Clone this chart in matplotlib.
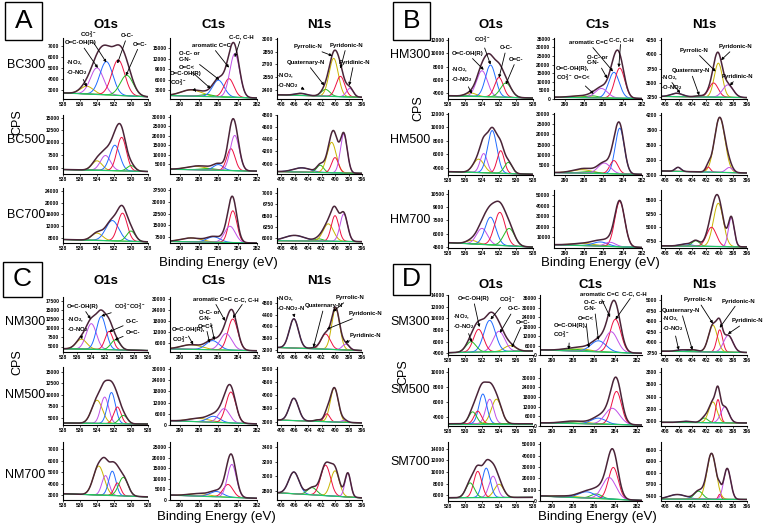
import numpy as np
import matplotlib
matplotlib.use("Agg")
import matplotlib.pyplot as plt
from matplotlib.patches import Rectangle

#--- Data: peak components ---
# each component = (binding energy, height above background, fwhm)
# O1s slots: -NO2 / O=C-OH(R) / CO3 / O-C- / O=C-
# C1s slots: O=C-OH / O=C< / O-C- or C-N- / aromatic / C-C
# N1s slots: -NO2 / Quaternary / Pyrrolic / Pyridonic / Pyridinic

A_samples = ["BC300", "BC500", "BC700"]
A_O1s = [
    [(535.2, 700, 1.8), (534.0, 2400, 1.8), (532.9, 3000, 1.8), (531.5, 3200, 1.8), (530.5, 1850, 1.8)],
    [(534.0, 1900, 1.4), (533.0, 3000, 1.4), (531.9, 5100, 1.4), (531.1, 6700, 1.3), (530.0, 1100, 1.1)],
    [(534.0, 2500, 1.5), (533.0, 0, 1.0), (532.2, 6900, 1.8), (531.0, 9500, 1.3), (530.0, 3500, 1.2)],
]
A_C1s = [
    [(288.8, 1800, 2.5), (287.2, 600, 1.5), (286.0, 4800, 1.4), (284.9, 5300, 1.2), (284.3, 12500, 1.2)],
    [(288.3, 1800, 2.5), (287.0, 800, 2.0), (286.0, 3000, 1.2), (284.7, 11500, 1.0), (284.3, 18500, 1.1)],
    [(288.8, 2500, 2.5), (287.5, 0, 2.0), (286.5, 3500, 1.6), (284.5, 20500, 1.0), (284.8, 10500, 1.3)],
]
A_N1s = [
    [(405.1, 25, 2.0), (401.4, 80, 1.5), (400.2, 450, 1.6), (399.2, 240, 1.5), (397.8, 100, 1.2)],
    [(404.9, 70, 3.0), (402.2, 120, 1.2), (400.5, 500, 1.6), (400.0, 250, 1.2), (398.7, 640, 1.2)],
    [(406.0, 120, 3.5), (402.4, 50, 1.5), (401.0, 380, 1.8), (400.0, 560, 1.3), (398.7, 600, 1.3)],
]
A_base = [[(2750, 2400), (1500, 800), (2340, 2310)],
          [(4600, 4200), (2500, 1500), (3870, 3840)],
          [(7500, 6700), (4500, 3500), (5950, 5930)]]
A_ylim = [[(2200, 7700), (500, 18000), (2290, 3010)],
          [(3700, 15500), (0, 31000), (3830, 4800)],
          [(6300, 25000), (3500, 39000), (5900, 7100)]]
A_yticks = [[[3000, 4000, 5000, 6000, 7000], [3000, 6000, 9000, 12000, 15000], [2400, 2550, 2700, 2850, 3000]],
            [[5000, 7500, 10000, 12500, 15000], [5000, 10000, 15000, 20000, 25000, 30000], [4000, 4200, 4400, 4600, 4800]],
            [[8000, 12000, 16000, 20000, 24000], [7500, 15000, 22500, 30000, 37500], [6000, 6250, 6500, 6750, 7000]]]

B_samples = ["HM300", "HM500", "HM700"]
B_O1s = [
    [(535.3, 500, 1.5), (534.0, 3900, 1.5), (533.0, 4800, 1.4), (532.0, 2950, 1.2), (531.2, 2150, 1.5)],
    [(534.4, 2000, 1.5), (533.8, 2850, 1.0), (532.8, 6300, 1.3), (531.8, 3350, 1.0), (530.9, 1650, 1.1)],
    [(535.2, 400, 1.5), (534.0, 1800, 1.5), (533.0, 3100, 1.5), (531.9, 3700, 1.5), (530.8, 1950, 1.5)],
]
B_C1s = [
    [(288.5, 900, 2.5), (287.2, 1200, 1.5), (284.9, 15000, 1.3), (284.3, 17500, 1.2), (286.2, 5500, 1.5)],
    [(288.2, 1700, 2.5), (287.5, 800, 2.0), (284.3, 22500, 1.1), (284.9, 6500, 1.0), (285.9, 5200, 1.5)],
    [(288.0, 2000, 3.0), (287.0, 600, 2.0), (286.3, 4000, 1.8), (284.3, 43000, 1.2), (285.3, 4000, 1.3)],
]
B_N1s = [
    [(406.3, 60, 2.0), (403.0, 20, 1.5), (400.2, 600, 1.4), (400.9, 250, 1.6), (398.8, 220, 1.8)],
    [(406.1, 80, 1.0), (403.0, 0, 1.0), (400.0, 1090, 1.8), (401.7, 100, 0.8), (398.6, 100, 1.2)],
    [(405.0, 40, 2.0), (403.5, 100, 1.3), (400.2, 790, 1.7), (401.2, 350, 1.7), (398.3, 530, 1.0)],
]
B_base = [[(3600, 3250), (1000, 300), (3260, 3240)],
          [(3400, 3000), (1200, 300), (3080, 3040)],
          [(5000, 4500), (3100, 500), (4660, 4640)]]
B_ylim = [[(3100, 12300), (0, 35500), (3215, 4290)],
          [(2900, 12100), (0, 30500), (3000, 4230)],
          [(4400, 10900), (0, 55000), (4620, 5680)]]
B_yticks = [[[4000, 6000, 8000, 10000, 12000], [0, 5000, 10000, 15000, 20000, 25000, 30000, 35000], [3250, 3500, 3750, 4000, 4250]],
            [[4000, 6000, 8000, 10000, 12000], [5000, 10000, 15000, 20000, 25000, 30000], [3000, 3300, 3600, 3900, 4200]],
            [[4500, 6000, 7500, 9000, 10500], [10000, 20000, 30000, 40000, 50000], [4750, 5000, 5250, 5500]]]

C_samples = ["NM300", "NM500", "NM700"]
C_O1s = [
    [(535.4, 2700, 1.8), (534.0, 7000, 1.7), (532.6, 9000, 1.6), (531.5, 5000, 1.3), (530.6, 2700, 1.5)],
    [(534.0, 5000, 1.5), (533.1, 5700, 1.1), (532.3, 6700, 1.1), (531.6, 3600, 1.0), (530.9, 1800, 1.1)],
    [(533.8, 2500, 1.5), (533.0, 1700, 1.0), (532.2, 2100, 1.0), (531.6, 1100, 0.9), (530.9, 1600, 1.3)],
]
C_C1s = [
    [(288.8, 2500, 2.5), (287.5, 0, 2.0), (286.6, 5000, 1.6), (284.5, 17000, 1.2), (285.2, 9000, 1.4)],
    [(288.0, 1800, 2.5), (287.0, 0, 2.0), (286.5, 3200, 1.5), (284.7, 16500, 1.2), (285.4, 7500, 1.3)],
    [(288.0, 1200, 2.5), (287.0, 0, 2.0), (286.2, 2500, 1.6), (285.0, 6000, 1.2), (284.6, 15500, 1.1)],
]
C_N1s = [
    [(406.1, 1000, 1.6), (403.1, 30, 1.5), (399.9, 1400, 1.4), (401.4, 520, 1.6), (398.4, 200, 1.2)],
    [(406.1, 850, 1.6), (402.5, 60, 1.2), (400.1, 1300, 1.4), (401.2, 300, 1.0), (398.6, 80, 1.0)],
    [(406.1, 300, 1.8), (403.4, 100, 1.6), (400.0, 350, 1.5), (401.4, 420, 1.7), (398.1, 330, 1.0)],
]
C_base = [[(4400, 3900), (2700, 1700), (3275, 3170)],
          [(3930, 3700), (2300, 600), (3060, 2950)],
          [(3140, 2870), (2300, 800), (2770, 2700)]]
C_ylim = [[(3500, 18500), (1000, 31000), (3120, 5000)],
          [(3500, 16000), (0, 31000), (2870, 5080)],
          [(2600, 7600), (0, 27300), (2670, 3470)]]
C_yticks = [[[5000, 7500, 10000, 12500, 15000, 17500], [6000, 12000, 18000, 24000, 30000], [3200, 3600, 4000, 4400, 4800]],
            [[5000, 7500, 10000, 12500, 15000], [0, 6000, 12000, 18000, 24000, 30000], [3000, 3500, 4000, 4500, 5000]],
            [[3000, 4000, 5000, 6000, 7000], [0, 5000, 10000, 15000, 20000, 25000], [2800, 3000, 3200, 3400]]]

D_samples = ["SM300", "SM500", "SM700"]
D_O1s = [
    [(535.3, 1000, 1.6), (534.0, 3500, 1.6), (532.9, 5400, 1.6), (531.6, 3900, 1.4), (530.7, 1800, 1.4)],
    [(533.7, 3300, 1.4), (532.9, 3300, 1.1), (532.1, 4000, 1.1), (531.5, 1700, 1.0), (530.9, 1600, 1.1)],
    [(534.0, 2300, 1.3), (533.3, 3700, 1.1), (532.5, 5100, 1.1), (531.5, 4550, 1.1), (530.6, 2550, 1.2)],
]
D_C1s = [
    [(287.2, 1500, 2.0), (288.1, 1200, 2.5), (285.6, 7000, 1.7), (284.0, 21000, 1.2), (284.4, 13000, 1.4)],
    [(287.6, 1200, 2.5), (288.5, 500, 2.0), (285.6, 3700, 1.6), (283.9, 20500, 1.1), (284.3, 10000, 1.6)],
    [(288.5, 1000, 3.0), (285.8, 4000, 1.2), (286.7, 5500, 1.8), (284.2, 28000, 1.1), (284.6, 19000, 1.5)],
]
D_N1s = [
    [(405.5, 40, 2.0), (403.8, 40, 1.5), (401.0, 640, 1.5), (400.0, 530, 1.0), (398.75, 400, 1.6)],
    [(405.0, 20, 2.0), (402.25, 75, 1.2), (401.0, 340, 1.4), (400.25, 380, 0.8), (399.25, 260, 1.4)],
    [(406.2, 120, 3.0), (403.1, 210, 1.5), (401.2, 1190, 1.6), (400.0, 130, 0.5), (398.9, 800, 1.2)],
]
D_base = [[(4100, 4400), (3230, 1080), (3790, 3760)],
          [(3100, 3100), (2000, 600), (2980, 2970)],
          [(5540, 5600), (4350, 500), (5320, 5310)]]
D_ylim = [[(3700, 14000), (0, 38000), (3700, 5130)],
          [(2800, 10600), (0, 36000), (2920, 3870)],
          [(4970, 15200), (0, 52000), (5270, 6800)]]
D_yticks = [[[4000, 6000, 8000, 10000, 12000, 14000], [0, 6000, 12000, 18000, 24000, 30000, 36000], [3750, 4000, 4250, 4500, 4750, 5000]],
            [[4000, 6000, 8000, 10000], [0, 6000, 12000, 18000, 24000, 30000], [3000, 3200, 3400, 3600, 3800]],
            [[6000, 8000, 10000, 12000, 14000], [0, 10000, 20000, 30000, 40000, 50000], [5400, 5700, 6000, 6300, 6600]]]

#--- Style ---
plt.rcParams['font.family'] = ['Liberation Sans', 'DejaVu Sans']
plt.rcParams['mathtext.fontset'] = 'custom'
plt.rcParams['mathtext.rm'] = 'Liberation Sans'
plt.rcParams['mathtext.bf'] = 'Liberation Sans:bold'
plt.rcParams['mathtext.default'] = 'bf'

OLIVE, VIOLET, BLUE, RED, GREEN = "#c8b400", "#c050e8", "#1f6bff", "#ee1040", "#22bb22"
slot_colors = [[OLIVE, VIOLET, BLUE, RED, GREEN],
               [OLIVE, GREEN, BLUE, RED, VIOLET],
               [BLUE, GREEN, OLIVE, RED, VIOLET]]
ENV = "#4a2438"
BASE = "#22c86a"

W, H = 779, 526
fig = plt.figure(figsize=(W / 100, H / 100), dpi=100)


def rect(x, y, w, h):
    return [x / W, 1 - (y + h) / H, w / W, h / H]


def spectrum(ax, peaks, colors, base, xlim, ylim, yticks, xticks):
    x = np.linspace(xlim[0], xlim[1], 500)
    bg = base[0] + (base[1] - base[0]) * (x - xlim[0]) / (xlim[1] - xlim[0])
    total = bg.copy()
    for (c, h, w), col in zip(peaks, colors):
        if h <= 0:
            continue
        g = h * np.exp(-4 * np.log(2) * (x - c) ** 2 / w ** 2)
        total = total + g
        ax.plot(x, bg + g, color=col, lw=0.7)
    ax.plot(x, bg, color=BASE, lw=0.9)
    ax.plot(x, total, color=ENV, lw=1.1)
    ax.set_xlim(xlim)
    ax.set_ylim(ylim)
    ax.set_xticks(xticks)
    ax.set_yticks(yticks)
    for s in ['top', 'right']:
        ax.spines[s].set_visible(False)
    for s in ['left', 'bottom']:
        ax.spines[s].set_linewidth(0.8)
    ax.tick_params(labelsize=3.6, length=1.5, width=0.5, pad=1)
    for t in ax.get_xticklabels() + ax.get_yticklabels():
        t.set_fontweight('bold')


def note(ax, txt, xy, xyt, ha='left'):
    ax.annotate(txt, xy=xy, xytext=xyt, textcoords='axes fraction',
                fontsize=4.3, fontweight='bold', ha=ha, va='center',
                arrowprops=dict(arrowstyle='-|>', lw=0.6, color='k', mutation_scale=4,
                                shrinkA=0, shrinkB=0),
                annotation_clip=False)


def panel(letter, x0, box, rows, cols, title_y, samples, label_y, cps, be,
          o1s_lims, c1s_lim, spectra, bases, ylims, yticks):
    # panel letter in a box
    bx, by, bw, bh = box
    fig.add_artist(Rectangle(((x0 + bx) / W, 1 - (by + bh) / H), bw / W, bh / H,
                             transform=fig.transFigure, fill=False, lw=1.0, ec='k'))
    fig.text((x0 + bx + bw / 2) / W, 1 - (by + bh / 2) / H, letter, fontsize=19, ha='center', va='center')
    for j, name in enumerate(["O1s", "C1s", "N1s"]):
        left, w = cols[j]
        fig.text((x0 + left + w / 2) / W, 1 - title_y / H, name, fontsize=9.5, fontweight='bold',
                 ha='center', va='center')
    fig.text(cps[0] / W, 1 - cps[1] / H, "CPS", fontsize=9, rotation=90, ha='center', va='center')
    fig.text(be[0] / W, 1 - be[1] / H, "Binding Energy (eV)", fontsize=9.5, ha='center', va='center')
    grid = []
    for i in range(3):
        top, h = rows[i]
        fig.text((x0 + 45) / W, 1 - label_y[i] / H, samples[i], fontsize=9, ha='right', va='center')
        row = []
        for j in range(3):
            left, w = cols[j]
            ax = fig.add_axes(rect(x0 + left, top, w, h))
            if j == 0:
                xlim = o1s_lims[i]
                xt = np.arange(min(xlim), max(xlim) + 1, 2)
            elif j == 1:
                xlim = c1s_lim
                xt = [290, 288, 286, 284, 282]
            else:
                xlim = (408.6, 396)
                xt = [408, 406, 404, 402, 400, 398, 396]
            spectrum(ax, spectra[j][i], slot_colors[j], bases[i][j], xlim, ylims[i][j], yticks[i][j], xt)
            row.append(ax)
        grid.append(row)
    return grid


NO2 = "-NO$_2$,\n-O-NO$_2$"
CO3 = "CO$_3^{2-}$"

#--- Panel A ---
gA = panel("A", 0, (5, 2, 37, 38), [(38, 61), (115, 59), (188, 55)], [(63, 85), (170, 87), (277, 85)],
           25, A_samples, [65, 140, 215], (17, 122), (218, 263),
           [(538, 528)] * 3, (291, 282), [A_O1s, A_C1s, A_N1s], A_base, A_ylim, A_yticks)
ax = gA[0][0]
note(ax, "O=C-OH(R)", (533.9, 5000), (0.02, 0.92))
note(ax, CO3, (532.9, 5500), (0.2, 1.06))
note(ax, "O-C-", (531.6, 5400), (0.68, 1.04))
note(ax, "O=C-", (530.6, 4300), (0.82, 0.9))
note(ax, NO2, (535.2, 3300), (0.04, 0.52))
ax = gA[0][1]
note(ax, "C-C, C-H", (284.3, 12500), (0.68, 1.03))
note(ax, "aromatic C=C", (284.9, 9500), (0.25, 0.88))
note(ax, "O-C- or\nC-N-", (285.9, 6000), (0.1, 0.7))
note(ax, "O=C<", (286.8, 3500), (0.1, 0.52))
note(ax, "O=C-OH(R)\n" + CO3, (288.3, 2600), (0.0, 0.32))
ax = gA[0][2]
note(ax, "Pyrrolic-N", (400.4, 2800), (0.2, 0.86))
note(ax, "Pyridonic-N", (399.2, 2650), (0.62, 0.88))
note(ax, "Quaternary-N", (401.6, 2450), (0.12, 0.6))
note(ax, "Pyridinic-N", (397.9, 2450), (0.72, 0.6))
note(ax, NO2, (404.5, 2400), (0.0, 0.3))

#--- Panel B ---
gB = panel("B", 385, (8, 2, 37, 38), [(38, 61), (113, 62), (190, 58)], [(63, 85), (169, 88), (276, 86)],
           25, B_samples, [55, 140, 220], (418, 108), (600, 263),
           [(538, 528)] * 3, (291.1, 282), [B_O1s, B_C1s, B_N1s], B_base, B_ylim, B_yticks)
ax = gB[0][0]
note(ax, "O=C-OH(R)", (533.8, 7500), (0.04, 0.75))
note(ax, CO3, (533.0, 8300), (0.3, 0.97))
note(ax, "O-C-", (532.0, 6300), (0.61, 0.84))
note(ax, "O=C-", (531.2, 5300), (0.72, 0.65))
note(ax, NO2, (535.2, 3900), (0.04, 0.4))
ax = gB[0][1]
note(ax, "aromatic C=C", (285.0, 16000), (0.17, 0.93))
note(ax, "C-C, C-H", (284.4, 18500), (0.62, 0.98))
note(ax, "O-C- or\nC-N-", (285.6, 12000), (0.37, 0.64))
note(ax, "O=C-OH(R),\n" + CO3 + " O=C<", (287.0, 3000), (0.02, 0.4))
ax = gB[0][2]
note(ax, "Pyrrolic-N", (400.6, 3700), (0.22, 0.8))
note(ax, "Pyridonic-N", (399.8, 3900), (0.67, 0.86))
note(ax, "Quaternary-N", (403.0, 3280), (0.12, 0.46))
note(ax, "Pyridinic-N", (398.5, 3450), (0.71, 0.37))
note(ax, NO2, (405.8, 3320), (0.0, 0.27))

#--- Panel C ---
gC = panel("C", 0, (3, 262, 39, 35), [(297, 55), (367, 58), (442, 58)], [(63, 85), (170, 87), (277, 85)],
           281, C_samples, [322, 395, 475], (17, 362), (216, 517),
           [(538, 526), (538, 528), (538, 528)], (291, 282), [C_O1s, C_C1s, C_N1s], C_base, C_ylim, C_yticks)
ax = gC[0][0]
note(ax, "O=C-OH(R)", (534.1, 12500), (0.04, 0.83))
note(ax, CO3 + CO3, (532.6, 13300), (0.6, 0.83))
note(ax, "O-C-", (531.5, 9000), (0.74, 0.55))
note(ax, "O=C-", (530.7, 6800), (0.74, 0.36))
note(ax, NO2, (535.3, 7000), (0.05, 0.5))
ax = gC[0][1]
note(ax, "aromatic C=C", (285.3, 18000), (0.27, 0.96))
note(ax, "C-C, C-H", (284.5, 19500), (0.73, 0.96))
note(ax, "O-C- or\nC-N-", (286.4, 7500), (0.33, 0.67))
note(ax, "O=C<", (286.9, 6000), (0.32, 0.47))
note(ax, "O=C-OH(R),\n" + CO3, (288.6, 5000), (0.02, 0.29))
ax = gC[0][2]
note(ax, "-NO$_2$,\n-O-NO$_2$-N", (406.0, 4300), (0.0, 0.88))
note(ax, "Quaternary-N", (403.2, 3280), (0.33, 0.84))
note(ax, "Pyrrolic-N", (400.3, 4500), (0.69, 0.99))
note(ax, "Pyridonic-N", (401.2, 3900), (0.84, 0.7))
note(ax, "Pyridinic-N", (398.5, 3450), (0.86, 0.3))

#--- Panel D ---
gD = panel("D", 385, (8, 264, 37, 31), [(295, 60), (368, 58), (442, 59)], [(63, 85), (155, 102), (276, 86)],
           285, D_samples, [322, 390, 462], (403, 372), (597, 517),
           [(528, 538)] * 3, (291.1, 281.5), [D_O1s, D_C1s, D_N1s], D_base, D_ylim, D_yticks)
ax = gD[0][0]
note(ax, "O=C-OH(R)", (531.7, 8500), (0.11, 0.94))
note(ax, CO3, (533.0, 9800), (0.6, 0.93))
note(ax, "O-C-", (534.1, 7500), (0.7, 0.77))
note(ax, "O=C-", (535.5, 5000), (0.8, 0.55))
note(ax, NO2, (530.8, 5900), (0.06, 0.56))
ax = gD[0][1]
note(ax, "aromatic C=C", (284.5, 24000), (0.39, 1.01))
note(ax, "C-C, C-H", (284.0, 22500), (0.8, 1.03))
note(ax, "O-C- or\nC-N-", (285.6, 9500), (0.43, 0.82))
note(ax, "O=C<", (286.5, 4500), (0.37, 0.61))
note(ax, "O=C-OH(R),\n" + CO3, (288.4, 3500), (0.13, 0.39))
ax = gD[0][2]
note(ax, "Pyrrolic-N", (401.0, 4450), (0.26, 0.92))
note(ax, "Pyridonic-N", (400.0, 4350), (0.71, 0.9))
note(ax, "Pyridinic-N", (398.8, 4200), (0.82, 0.57))
note(ax, "Quaternary-N", (404.0, 3820), (0.01, 0.74))
note(ax, NO2, (406.0, 3820), (0.01, 0.52))

fig.savefig("out.png", dpi=100)
